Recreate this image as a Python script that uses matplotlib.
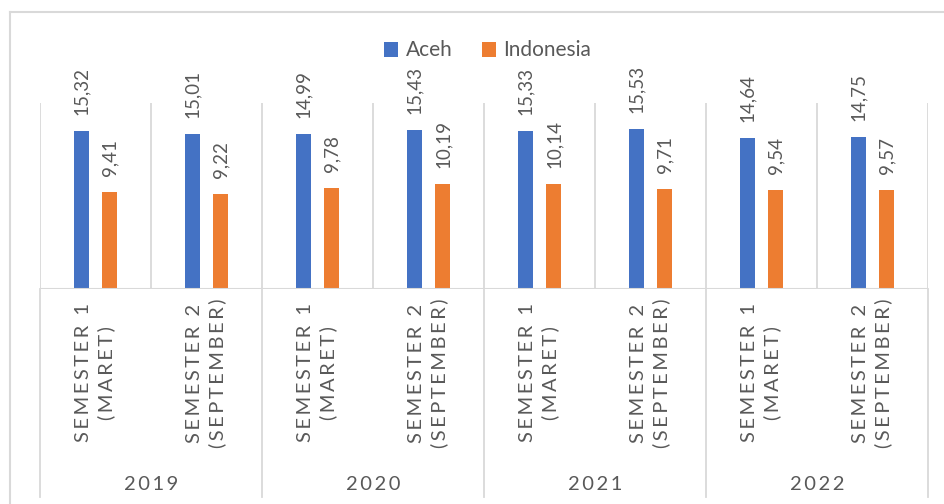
import numpy as np
import matplotlib.pyplot as plt
from matplotlib.lines import Line2D

plt.rcParams['font.family'] = ['Lato', 'DejaVu Sans']

# data
years = ['2019', '2020', '2021', '2022']
semesters = ['SEMESTER 1\n(MARET)', 'SEMESTER 2\n(SEPTEMBER)']
aceh = [15.32, 15.01, 14.99, 15.43, 15.33, 15.53, 14.64, 14.75]
indonesia = [9.41, 9.22, 9.78, 10.19, 10.14, 9.71, 9.54, 9.57]

blue = '#4472C4'
orange = '#ED7D31'
grid = '#D9D9D9'
txt = '#595959'


def spaced(s, sp='\u2009'):
    # imitate the letter spacing of the office chart
    return '\n'.join(sp.join(list(line)) for line in s.split('\n'))


W, H = 945, 504
fig = plt.figure(figsize=(W / 100, H / 100), dpi=100)
L, R, T, B = 40, 928, 103, 289
ax = fig.add_axes([L / W, 1 - B / H, (R - L) / W, (B - T) / H])

x = np.arange(len(aceh))
off, bw = 0.13, 0.135
b1 = ax.bar(x - off, aceh, bw, color=blue, label='Aceh', zorder=3)
b2 = ax.bar(x + off, indonesia, bw, color=orange, label='Indonesia', zorder=3)

for bars, vals in ((b1, aceh), (b2, indonesia)):
    for rect, v in zip(bars, vals):
        ax.annotate(f'{v:.2f}'.replace('.', ','),
                    (rect.get_x() + rect.get_width() / 2, v),
                    xytext=(0, 11.5), textcoords='offset points',
                    rotation=90, ha='center', va='bottom',
                    fontsize=13.5, color=txt)

ax.set_xlim(-0.5, len(aceh) - 0.5)
ax.set_ylim(0, 18)
ax.set_xticks([])
ax.set_yticks([])
for s in ax.spines.values():
    s.set_visible(False)

# vertical gridlines between categories
for k in range(len(aceh) + 1):
    ax.axvline(k - 0.5, color=grid, lw=1.3, zorder=1)
ax.axhline(0, color=grid, lw=1.5, zorder=4)

# two-level category axis below the plot
trans = ax.get_xaxis_transform()
y_sem = -(373 - B) / (B - T)
y_year = -(484 - B) / (B - T)
y_end = -(497 - B) / (B - T)
for k in range(0, len(aceh) + 1, 2):
    ax.add_line(Line2D([k - 0.5, k - 0.5], [0, y_end], transform=trans,
                       color=grid, lw=1.3, clip_on=False))
for i in range(len(aceh)):
    ax.text(i, y_sem, spaced(semesters[i % 2]), transform=trans, rotation=90,
            ha='center', va='center', multialignment='center',
            linespacing=1.35, fontsize=14.5, color=txt)
for j, yr in enumerate(years):
    ax.text(2 * j + 0.5, y_year, spaced(yr), transform=trans,
            ha='center', va='center', fontsize=14.5, color=txt)

ax.legend(loc='center', bbox_to_anchor=(487.5 / W, 1 - 50.5 / H),
          bbox_transform=fig.transFigure, ncol=2, frameon=False,
          fontsize=15, handlelength=0.7, handleheight=0.7,
          handletextpad=0.35, columnspacing=1.4, labelcolor=txt)

# chart frame (cropped)
fig.add_artist(Line2D([10 / W, 10 / W], [0, 1 - 12 / H], color=grid, lw=1.5))
fig.add_artist(Line2D([10 / W, 1], [1 - 12 / H, 1 - 12 / H], color=grid, lw=1.5))

fig.savefig('out.png', dpi=100)
